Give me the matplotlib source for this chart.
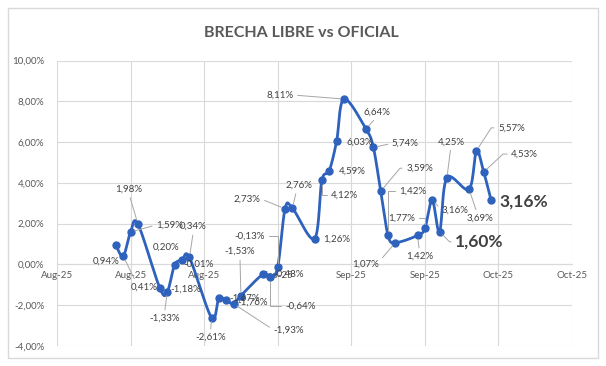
import numpy as np
import pandas as pd
import matplotlib
matplotlib.use("Agg")
import matplotlib.pyplot as plt
import matplotlib.dates as mdates
from matplotlib.ticker import FuncFormatter, MultipleLocator, FixedLocator
from matplotlib.patches import Rectangle

plt.rcParams['font.family'] = ['Lato', 'DejaVu Sans']

# Datos: brecha cambiaria libre vs oficial (%)
fechas = ["2025-08-19", "2025-08-20", "2025-08-21", "2025-08-22",
          "2025-08-25", "2025-08-26", "2025-08-27", "2025-08-28", "2025-08-29",
          "2025-09-01", "2025-09-02", "2025-09-03", "2025-09-04", "2025-09-05",
          "2025-09-08", "2025-09-09", "2025-09-10", "2025-09-11", "2025-09-12",
          "2025-09-15", "2025-09-16", "2025-09-17", "2025-09-18", "2025-09-19",
          "2025-09-22", "2025-09-23", "2025-09-24", "2025-09-25", "2025-09-26",
          "2025-09-29", "2025-09-30", "2025-10-01", "2025-10-02", "2025-10-03",
          "2025-10-06", "2025-10-07", "2025-10-08", "2025-10-09"]
brecha = [0.94, 0.41, 1.59, 1.98,
          -1.18, -1.33, -0.01, 0.20, 0.34,
          -2.61, -1.67, -1.76, -1.93, -1.53,
          -0.48, -0.64, -0.13, 2.73, 2.76,
          1.26, 4.12, 4.59, 6.03, 8.11,
          6.64, 5.74, 3.59, 1.42, 1.07,
          1.42, 1.77, 3.16, 1.60, 4.25,
          3.69, 5.57, 4.53, 3.16]
destacados = [32, 37]  # etiquetas en negrita grande

# eje x: desde 11-ago hasta 20-oct, una marca cada 10 dias
x_ini, x_fin, paso = "2025-08-11", "2025-10-20", 10

# posicion de cada etiqueta (offset en pixeles) y linea guia
# (dx, dy, relpos, estilo)  estilo: None = sin linea, 'arc3' recta, o angulo
etiquetas = [
    (-10, -16, None, None), (21, -31, (0.2, 1), 'arc3'), (39, 7, (0, 0.5), 'arc3'),
    (-9, 35, (0.5, 0), 'arc3'), (26, -1, None, None), (-3, -27, (0.5, 1), 'arc3'),
    (24, 0, None, None), (-16, 13, None, None), (4, 31, (0.5, 0), 'arc3'),
    (-1, -20, (0.5, 1), 'arc3'), (26, 0, None, None), (26, -2, None, None),
    (55, -26, (0, 0.5), 'arc3'), (-1, 44, (0.5, 0), 'arc3'), (26, 0, None, None),
    (30, -29, (0, 0.5), 'angle,angleA=0,angleB=90,rad=0'),
    (-28, 31, (1, 0.5), 'angle,angleA=0,angleB=90,rad=0'),
    (-38, 10, (1, 0.5), 'arc3'), (7, 23, (0.4, 0), 'arc3'), (22, 0, None, None),
    (23, -15, (0, 0.5), 'angle,angleA=0,angleB=90,rad=0'),
    (23, 0, None, None), (23, -1, None, None), (-64, 4, (1, 0.5), 'arc3'),
    (11, 17, (0.5, 0), 'arc3'), (32, 4, (0, 0.5), 'arc3'),
    (39, 23, (0, 0.5), 'angle,angleA=0,angleB=50,rad=0'),
    (25, 44, (0, 0.5), 'angle,angleA=0,angleB=90,rad=0'),
    (-30, -22, (1, 0.8), 'arc3'), (2, -21, (0.5, 1), 'arc3'),
    (-23, 10, (1, 0.5), 'angle,angleA=0,angleB=90,rad=0'),
    (23, -10, (0, 0.5), 'arc3'),
    (40, -10, (0, 0.5), 'angle,angleA=0,angleB=-45,rad=0'),
    (4, 36, (0.5, 0), 'arc3'), (11, -29, (0.4, 1), 'arc3'),
    (35, 23, (0, 0.5), 'angle,angleA=0,angleB=57,rad=0'),
    (41, 18, (0, 0.5), 'angle,angleA=0,angleB=43,rad=0'),
    (33, -2, None, None),
]

x = mdates.date2num(pd.to_datetime(fechas))
y = np.array(brecha)


def suavizar(x, y, n=24):
    # curva tipo "linea suavizada" de Excel (bezier / catmull-rom)
    xs, ys = [], []
    m = len(x)
    t = np.linspace(0, 1, n)
    for i in range(m - 1):
        a = max(i - 1, 0)
        b = min(i + 2, m - 1)
        c1 = (x[i] + (x[i + 1] - x[a]) / 6, y[i] + (y[i + 1] - y[a]) / 6)
        c2 = (x[i + 1] - (x[b] - x[i]) / 6, y[i + 1] - (y[b] - y[i]) / 6)
        bx = ((1 - t) ** 3 * x[i] + 3 * (1 - t) ** 2 * t * c1[0]
              + 3 * (1 - t) * t ** 2 * c2[0] + t ** 3 * x[i + 1])
        by = ((1 - t) ** 3 * y[i] + 3 * (1 - t) ** 2 * t * c1[1]
              + 3 * (1 - t) * t ** 2 * c2[1] + t ** 3 * y[i + 1])
        xs.extend(bx)
        ys.extend(by)
    return np.array(xs), np.array(ys)


fig = plt.figure(figsize=(6.06, 3.66), dpi=100)
ax = fig.add_axes([57 / 606, 1 - 346 / 366, 515 / 606, 285.5 / 366])

azul = '#2E62BC'
gris = '#595959'

sx, sy = suavizar(x, y)
ax.plot(sx, sy, color=azul, lw=2, zorder=3, solid_capstyle='round')
ax.plot(x, y, 'o', color=azul, ms=5, zorder=4)

x0 = mdates.date2num(pd.Timestamp(x_ini))
x1 = mdates.date2num(pd.Timestamp(x_fin))
ax.set_xlim(x0, x1)
ax.set_ylim(-4, 10)
ax.xaxis.set_major_locator(FixedLocator(np.arange(x0, x1 + 1, paso)))
ax.xaxis.set_major_formatter(mdates.DateFormatter('%b-%y'))
ax.yaxis.set_major_locator(MultipleLocator(2))
ax.yaxis.set_major_formatter(FuncFormatter(lambda v, p: f"{v:.2f}%".replace('.', ',')))
ax.grid(True, color='#D9D9D9', lw=0.8)
ax.set_axisbelow(True)
for s in ['top', 'right', 'left']:
    ax.spines[s].set_visible(False)
ax.spines['bottom'].set_position(('data', 0))
ax.spines['bottom'].set_color('#D9D9D9')
ax.tick_params(length=0, labelsize=7, colors=gris)
ax.tick_params(axis='y', pad=9)
ax.tick_params(axis='x', pad=5)

for i, (dx, dy, rp, estilo) in enumerate(etiquetas):
    txt = f"{brecha[i]:.2f}%".replace('.', ',')
    grande = i in destacados
    props = None
    if estilo is not None:
        props = dict(arrowstyle='-', color='#A6A6A6', lw=0.7, relpos=rp,
                     connectionstyle=estilo, shrinkA=1, shrinkB=3)
    ax.annotate(txt, (x[i], y[i]), xytext=(dx, dy), textcoords='offset pixels',
                ha='center', va='center', color='#404040',
                fontsize=12.5 if grande else 7,
                fontweight='bold' if grande else 'normal',
                arrowprops=props, zorder=5)

fig.text(0.498, 1 - 33 / 366, "BRECHA LIBRE vs OFICIAL", ha='center', va='center',
         fontsize=11.5, fontweight='bold', color=gris)

fig.patches.append(Rectangle((8 / 606, 8 / 366), 590 / 606, 350 / 366,
                             transform=fig.transFigure, fill=False,
                             edgecolor='#D9D9D9', lw=1))

fig.savefig("out.png", dpi=100)
plt.close(fig)
